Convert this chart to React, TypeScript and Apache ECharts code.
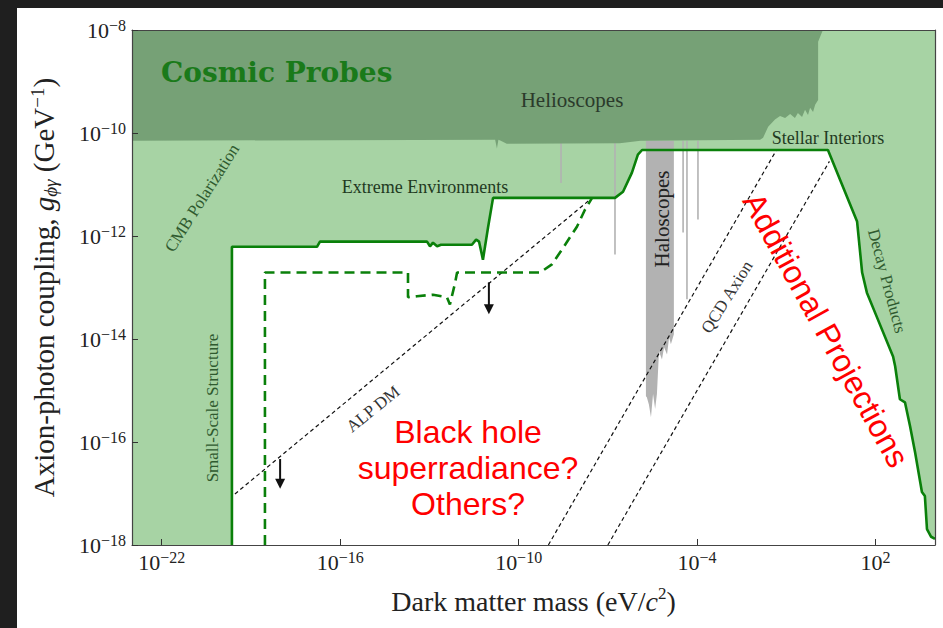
import React, { useEffect, useRef } from 'react';
import * as echarts from 'echarts';

const SERIF = "'Liberation Serif', 'DejaVu Serif', serif";
const SERIF_WIDE = "'DejaVu Serif', 'Liberation Serif', serif";
const SANS = "'Liberation Sans', Arial, sans-serif";

// All values are log10 exponents: x = log10(m / eV), y = log10(g / GeV^-1)
const xRange = [-23, 4];
const yRange = [-18, -8];
const xTickExponents = [-22, -16, -10, -4, 2];
const yTickExponents = [-18, -16, -14, -12, -10, -8];

// Current cosmic-probe bound (solid green line)
const cosmicBound: number[][] = [
  [-19.64, -18], [-19.64, -12.21], [-16.78, -12.21], [-16.68, -12.11], [-13.08, -12.11],
  [-12.98, -12.2], [-12.88, -12.13], [-12.74, -12.2], [-12.61, -12.17], [-11.57, -12.17],
  [-11.43, -12.07], [-11.33, -12.11], [-11.2, -12.46], [-11.03, -11.84], [-10.86, -11.26],
  [-6.76, -11.26], [-6.49, -11.14], [-6.19, -10.77], [-5.99, -10.42], [-5.85, -10.33],
  [0.4, -10.33], [1.38, -11.72], [1.55, -12.71], [1.71, -13.1], [2.05, -13.58],
  [2.59, -14.34], [2.66, -14.53], [2.82, -15.17], [2.99, -15.23], [3.16, -15.69],
  [3.33, -16.2], [3.56, -16.97], [3.66, -17.05], [3.73, -17.69], [3.87, -17.84], [4.0, -17.88],
];

// Projected cosmic-probe reach (dashed green line)
const cosmicProjection: number[][] = [
  [-18.53, -18], [-18.53, -12.71], [-13.72, -12.71], [-13.72, -13.19], [-13.42, -13.17],
  [-12.88, -13.14], [-12.41, -13.19], [-12.31, -13.33], [-12.14, -12.92], [-12.07, -12.71],
  [-9.28, -12.71], [-8.88, -12.55], [-8.54, -12.26], [-8.04, -11.82], [-7.77, -11.49], [-7.53, -11.26],
];

// Helioscope exclusion (dark green)
const helioscopeRegion: number[][] = [
  [-23, -8], [0.23, -8], [0.07, -8.23], [0.07, -9.36], [-0.03, -9.45], [-0.1, -9.59],
  [-0.2, -9.51], [-0.27, -9.65], [-0.37, -9.55], [-0.47, -9.69], [-0.61, -9.61], [-0.71, -9.71],
  [-0.87, -9.63], [-1.04, -9.71], [-1.21, -9.67], [-1.38, -9.74], [-1.61, -9.88], [-1.78, -10.09],
  [-1.88, -10.13], [-5.9, -10.15], [-6.6, -10.2], [-10.4, -10.21], [-10.6, -10.15],
  [-10.68, -10.13], [-10.73, -10.3], [-10.79, -10.13], [-23, -10.15],
];

// Haloscope exclusion (gray band)
const haloscopeBand: number[][] = [
  [-5.72, -10.15], [-4.78, -10.15], [-4.78, -13.91], [-4.88, -14.1], [-4.94, -13.97],
  [-5.01, -14.3], [-5.11, -14.16], [-5.18, -14.4], [-5.28, -14.24], [-5.35, -15.07],
  [-5.41, -15.36], [-5.48, -15.07], [-5.55, -15.52], [-5.62, -15.27], [-5.69, -15.13], [-5.72, -15.11],
];

// Narrow haloscope limits: [x, top y, bottom y]
const haloscopeSpikes: number[][] = [
  [-8.575, -10.15, -10.97],
  [-6.76, -10.15, -12.36],
  [-4.47, -10.15, -11.93],
  [-4.34, -10.15, -13.23],
  [-3.97, -10.15, -11.68],
];

// Theory lines (black dashed)
const alpDmLine: number[][] = [[-19.54, -17.01], [-7.53, -11.26]];
const qcdAxionUpper: number[][] = [[-9.0, -18], [-1.33, -10.33]];
const qcdAxionLower: number[][] = [[-7.0, -18], [0.45, -10.55]];

// Downward arrows: [x, start y, end y]
const arrows: number[][] = [
  [-18.02, -16.33, -16.91],
  [-11.0, -12.9, -13.52],
];

const LIGHT_GREEN = '#a7d3a4';
const DARK_GREEN = '#76a176';
const LINE_GREEN = '#0a800a';
const GRAY = '#b2b2b2';

function powLabel(v: number) {
  const e = v < 0 ? '\u2212' + Math.abs(v) : String(v);
  return `{b|10}{s|${e}}`;
}

const tickRich = {
  b: { fontSize: 22, fontFamily: SERIF, color: '#222', lineHeight: 26 },
  s: { fontSize: 16, fontFamily: SERIF, color: '#222', lineHeight: 16, verticalAlign: 'top' },
};

function areaSeries(points: number[][], fill: string) {
  return {
    type: 'custom',
    silent: true,
    coordinateSystem: 'cartesian2d',
    data: [points[0]],
    renderItem: (_p: any, api: any) => ({
      type: 'polygon',
      shape: { points: points.map((p) => api.coord(p)) },
      style: { fill },
    }),
  };
}

function dataLine(points: number[][], color: string, width: number, type: any) {
  return {
    type: 'line',
    data: points,
    symbol: 'none',
    showSymbol: false,
    silent: true,
    lineStyle: { color, width, type },
    z: 5,
  };
}

function text(t: string, x: number, y: number, size: number, color: string, rotDeg = 0, extra: any = {}) {
  return {
    type: 'text',
    x,
    y,
    rotation: (rotDeg * Math.PI) / 180,
    z: 100,
    silent: true,
    style: {
      text: t,
      fill: color,
      fontSize: size,
      fontFamily: SERIF,
      align: 'center',
      verticalAlign: 'middle',
      textAlign: 'center',
      textVerticalAlign: 'middle',
      ...extra,
    },
  };
}

const frameAxisLine = { show: true, onZero: false, lineStyle: { color: '#444', width: 1.2 } };

export default function App() {
  const ref = useRef<HTMLDivElement>(null);

  useEffect(() => {
    document.body.style.margin = '0';
    const chart = echarts.init(ref.current!, undefined, { renderer: 'svg' });

    const option: any = {
      animation: false,
      backgroundColor: '#ffffff',
      grid: {
        left: 132,
        top: 30,
        width: 803,
        height: 515,
        show: true,
        backgroundColor: LIGHT_GREEN,
        borderWidth: 0,
      },
      xAxis: [
        {
          type: 'value',
          min: xRange[0],
          max: xRange[1],
          position: 'bottom',
          z: 10,
          axisLine: frameAxisLine,
          axisTick: {
            show: true,
            inside: true,
            length: 6,
            customValues: xTickExponents,
            lineStyle: { color: '#333' },
          },
          axisLabel: {
            customValues: xTickExponents,
            formatter: powLabel,
            rich: tickRich,
            margin: 4,
          },
          splitLine: { show: false },
          name: 'Dark matter mass (eV/{i|c}{sup|2})',
          nameLocation: 'middle',
          nameGap: 40,
          nameTextStyle: {
            fontSize: 28,
            fontFamily: SERIF,
            color: '#222',
            lineHeight: 32,
            rich: {
              i: { fontSize: 28, fontFamily: SERIF, fontStyle: 'italic', color: '#222', lineHeight: 32 },
              sup: { fontSize: 17, fontFamily: SERIF, color: '#222', lineHeight: 17, verticalAlign: 'top' },
            },
          },
        },
        {
          type: 'value',
          min: xRange[0],
          max: xRange[1],
          position: 'top',
          z: 10,
          axisLine: frameAxisLine,
          axisTick: { show: false },
          axisLabel: { show: false },
          splitLine: { show: false },
        },
      ],
      yAxis: [
        {
          type: 'value',
          min: yRange[0],
          max: yRange[1],
          interval: 2,
          position: 'left',
          z: 10,
          axisLine: frameAxisLine,
          axisTick: { show: true, inside: true, length: 6, lineStyle: { color: '#333' } },
          axisLabel: { formatter: powLabel, rich: tickRich, margin: 6 },
          splitLine: { show: false },
          name: 'Axion-photon coupling, {i|g}{sub|\u03d5\u03b3} (GeV{sup|\u22121})',
          nameLocation: 'middle',
          nameGap: 72,
          nameTextStyle: {
            fontSize: 29,
            fontFamily: SERIF,
            color: '#222',
            lineHeight: 32,
            rich: {
              i: { fontSize: 29, fontFamily: SERIF, fontStyle: 'italic', color: '#222', lineHeight: 32 },
              sub: { fontSize: 19, fontFamily: SERIF, fontStyle: 'italic', color: '#222', lineHeight: 19, verticalAlign: 'bottom' },
              sup: { fontSize: 19, fontFamily: SERIF, color: '#222', lineHeight: 19, verticalAlign: 'top' },
            },
          },
        },
        {
          type: 'value',
          min: yRange[0],
          max: yRange[1],
          position: 'right',
          z: 10,
          axisLine: frameAxisLine,
          axisTick: { show: false },
          axisLabel: { show: false },
          splitLine: { show: false },
        },
      ],
      series: [
        areaSeries([...cosmicBound, [xRange[1], yRange[0]]], '#ffffff'),
        areaSeries(haloscopeBand, GRAY),
        {
          type: 'custom',
          silent: true,
          coordinateSystem: 'cartesian2d',
          data: [[haloscopeSpikes[0][0], haloscopeSpikes[0][1]]],
          renderItem: (_p: any, api: any) => ({
            type: 'group',
            children: haloscopeSpikes.map((s) => {
              const a = api.coord([s[0], s[1]]);
              const b = api.coord([s[0], s[2]]);
              return {
                type: 'line',
                shape: { x1: a[0], y1: a[1], x2: b[0], y2: b[1] },
                style: { stroke: GRAY, lineWidth: 1.6 },
              };
            }),
          }),
        },
        areaSeries(helioscopeRegion, DARK_GREEN),
        dataLine(alpDmLine, '#111', 1.2, [4, 3]),
        dataLine(qcdAxionUpper, '#111', 1.2, [4, 3]),
        dataLine(qcdAxionLower, '#111', 1.2, [4, 3]),
        dataLine(cosmicProjection, LINE_GREEN, 2.6, [10, 6]),
        dataLine(cosmicBound, LINE_GREEN, 2.6, 'solid'),
        {
          type: 'custom',
          silent: true,
          coordinateSystem: 'cartesian2d',
          z: 6,
          data: [[arrows[0][0], arrows[0][1]]],
          renderItem: (_p: any, api: any) => ({
            type: 'group',
            children: arrows.flatMap((a) => {
              const top = api.coord([a[0], a[1]]);
              const tip = api.coord([a[0], a[2]]);
              return [
                {
                  type: 'line',
                  shape: { x1: top[0], y1: top[1], x2: tip[0], y2: tip[1] - 8 },
                  style: { stroke: '#111', lineWidth: 2 },
                },
                {
                  type: 'polygon',
                  shape: { points: [[tip[0] - 5, tip[1] - 10], [tip[0] + 5, tip[1] - 10], [tip[0], tip[1]]] },
                  style: { fill: '#111' },
                },
              ];
            }),
          }),
        },
      ],
      graphic: [
        { type: 'rect', z: 100, silent: true, shape: { x: 0, y: 0, width: 943, height: 8 }, style: { fill: '#1f1f1f' } },
        { type: 'rect', z: 100, silent: true, shape: { x: 0, y: 0, width: 17, height: 628 }, style: { fill: '#1f1f1f' } },
        text('Cosmic Probes', 161, 72, 28, '#1a7a1a', 0, {
          fontFamily: SERIF_WIDE, fontWeight: 'bold', align: 'left', textAlign: 'left',
        }),
        text('Helioscopes', 572, 100, 21, '#2b3a2b'),
        text('CMB Polarization', 202, 198, 17, '#2f5a2f', 57.6),
        text('Extreme Environments', 425, 187, 18, '#1f3a1f'),
        text('Stellar Interiors', 828, 138, 18, '#1f3a1f'),
        text('Small-Scale Structure', 212, 408, 17, '#2f5a2f', 90),
        text('Haloscopes', 662, 219, 21, '#222', 90),
        text('Decay Products', 887, 281, 17, '#2f5a2f', -75),
        text('QCD Axion', 727, 297, 17, '#333', 58),
        text('ALP DM', 373, 409, 17, '#333', 39),
        text('Black hole\nsuperradiance?\nOthers?', 468, 468, 32, '#ff0000', 0, {
          fontFamily: SANS, lineHeight: 36,
        }),
        text('Additional Projections', 826, 330, 32, '#ff0000', -61, { fontFamily: SANS }),
      ],
    };

    chart.setOption(option);
    return () => chart.dispose();
  }, []);

  return <div ref={ref} style={{ width: 943, height: 628 }} />;
}
